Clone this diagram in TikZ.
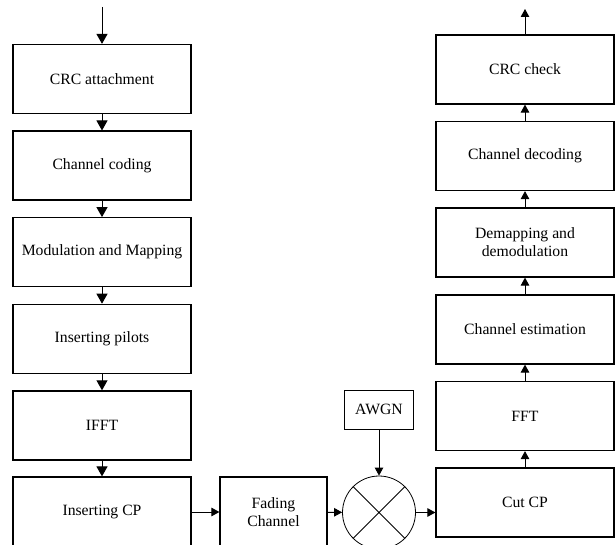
\documentclass[tikz,border=0pt]{standalone}
\usepackage{fontspec}
\setmainfont{Liberation Serif}
\usetikzlibrary{arrows.meta}
\begin{document}
\begin{tikzpicture}[x=1pt,y=-1pt,
  blk/.style={draw, line width=1.2pt, minimum width=178pt, minimum height=69pt, inner sep=0pt, align=center,
    font=\fontsize{15.7}{18}\selectfont},
  thin/.style={draw, line width=0.8pt, inner sep=0pt, align=center, font=\fontsize{15.7}{18}\selectfont},
  arr/.style={line width=1pt, -{Triangle[length=10pt,width=11pt]}},
  arrs/.style={line width=1pt, -{Triangle[length=8pt,width=8.5pt]}}]
\useasboundingbox (0,0) rectangle (616,545);
\clip (0,0) rectangle (616,545);
% transmitter column
\node[blk] (crc) at (102,79) {CRC attachment};
\node[blk] (cc) at (102,165.6) {Channel coding};
\node[blk] (mm) at (102,252.2) {Modulation and Mapping};
\node[blk] (ip) at (102,338.8) {Inserting pilots};
\node[blk] (ifft) at (102,425.4) {IFFT};
\node[blk, minimum height=70pt] (icp) at (102,512) {Inserting CP};
% channel
\node[blk, minimum width=107pt, minimum height=70pt] (fad) at (273.5,512) {Fading\\Channel};
\node[thin, minimum width=69pt, minimum height=39pt] (awgn) at (379,409.5) {AWGN};
\node[draw, line width=0.8pt, circle, minimum size=73pt, inner sep=0pt] (mix) at (379,512.5) {};
\draw[line width=0.8pt] (mix.north west) -- (mix.south east) (mix.north east) -- (mix.south west);
% receiver column
\node[blk] (cut) at (525,502.5) {Cut CP};
\node[blk] (fft) at (525,416) {FFT};
\node[blk] (che) at (525,329.5) {Channel estimation};
\node[blk] (dem) at (525,242.5) {Demapping and\\demodulation};
\node[blk] (cdec) at (525,156) {Channel decoding};
\node[blk] (crcc) at (525,69.5) {CRC check};
\coordinate (in) at (102,7);
\coordinate (out) at (525,9);
% connectors
\draw[arr] (in) -- (crc);
\draw[arr] (crc) -- (cc);
\draw[arr] (cc) -- (mm);
\draw[arr] (mm) -- (ip);
\draw[arr] (ip) -- (ifft);
\draw[arr] (ifft) -- (icp);
\draw[arrs] (icp) -- (fad);
\draw[arrs] (fad) -- (mix);
\draw[arrs, line width=0.8pt] (awgn) -- (mix);
\draw[arrs] (mix.east) -- (mix.east -| cut.west);
\draw[arrs] (cut) -- (fft);
\draw[arrs] (fft) -- (che);
\draw[arrs] (che) -- (dem);
\draw[arrs] (dem) -- (cdec);
\draw[arrs] (cdec) -- (crcc);
\draw[arrs] (crcc) -- (out);
\end{tikzpicture}
\end{document}
